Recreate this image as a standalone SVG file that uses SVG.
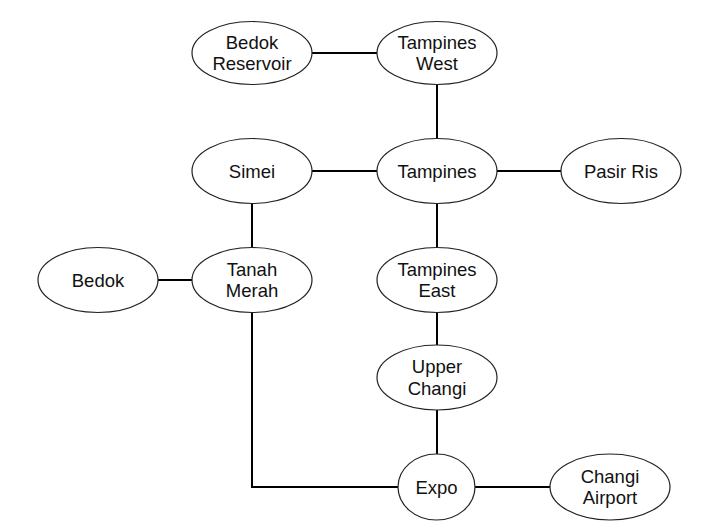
<svg xmlns="http://www.w3.org/2000/svg" width="710" height="530" viewBox="0 0 710 530">
<style>
.n ellipse{fill:#fff;stroke:#222;stroke-width:1.2}
.n text{font-family:"Liberation Sans",Arial,Helvetica,sans-serif;font-size:18.5px;fill:#111;text-anchor:middle}
.c path{fill:none;stroke:#000;stroke-width:2}
</style>
<rect width="710" height="530" fill="#fff"/>
<g class="c" id="connectors">
<path d="M312,53 H377"/>
<path d="M437,84 V139"/>
<path d="M312,171 H377"/>
<path d="M497,171 H561"/>
<path d="M252,203 V248"/>
<path d="M437,203 V248"/>
<path d="M158,280 H192"/>
<path d="M252,312 V487 H398"/>
<path d="M437,312 V345"/>
<path d="M437,410 V454"/>
<path d="M475,487 H550"/>
</g>
<g class="n" id="bedok-reservoir"><ellipse cx="252" cy="53" rx="60" ry="31.5"/><text x="252" y="48.5">Bedok</text><text x="252" y="70">Reservoir</text></g>
<g class="n" id="tampines-west"><ellipse cx="437" cy="53" rx="60" ry="31.5"/><text x="437" y="48.5">Tampines</text><text x="437" y="70">West</text></g>
<g class="n" id="simei"><ellipse cx="252" cy="171" rx="60" ry="32.5"/><text x="252" y="178">Simei</text></g>
<g class="n" id="tampines"><ellipse cx="437" cy="171" rx="60" ry="32.5"/><text x="437" y="178">Tampines</text></g>
<g class="n" id="pasir-ris"><ellipse cx="621" cy="171" rx="60" ry="32.5"/><text x="621" y="178">Pasir Ris</text></g>
<g class="n" id="bedok"><ellipse cx="98" cy="280" rx="60" ry="32.5"/><text x="98" y="287">Bedok</text></g>
<g class="n" id="tanah-merah"><ellipse cx="252" cy="280" rx="60" ry="32.5"/><text x="252" y="275.5">Tanah</text><text x="252" y="297">Merah</text></g>
<g class="n" id="tampines-east"><ellipse cx="437" cy="280" rx="60" ry="32.5"/><text x="437" y="275.5">Tampines</text><text x="437" y="297">East</text></g>
<g class="n" id="upper-changi"><ellipse cx="437" cy="377.5" rx="60" ry="32.5"/><text x="437" y="373">Upper</text><text x="437" y="394.5">Changi</text></g>
<g class="n" id="expo"><ellipse cx="436.5" cy="487" rx="38.5" ry="33"/><text x="436.5" y="494">Expo</text></g>
<g class="n" id="changi-airport"><ellipse cx="610" cy="487" rx="60" ry="33"/><text x="610" y="482.5">Changi</text><text x="610" y="504">Airport</text></g>
</svg>
